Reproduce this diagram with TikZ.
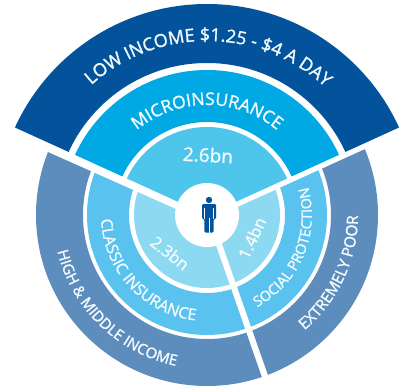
\documentclass[tikz,border=0pt]{standalone}
\usepackage{fontspec}
\setmainfont[FakeBold=1.2]{Open Sans}
\usetikzlibrary{decorations.text}
\definecolor{cLow}{HTML}{02539B}
\definecolor{cMicro}{HTML}{00A9E4}
\definecolor{cTopIn}{HTML}{4EC6EB}
\definecolor{cOut}{HTML}{5C8DBD}
\definecolor{cMid}{HTML}{59C2EE}
\definecolor{cIn}{HTML}{8ED9F2}
\definecolor{cTxt}{HTML}{F4FBFE}
\newcommand{\ringfill}[3]{\fill[#1,even odd rule] (0,0) circle[radius=#2] (0,0) circle[radius=#3];}
\newcommand{\arctext}[5]{% radius,start,end,size,text
  \path[postaction={decorate,decoration={text along path,text align={center},text color=cTxt,
    text={|\fontsize{#4}{#4}\selectfont|#5}}}] (#2:#1) arc[start angle=#2,end angle=#3,radius=#1];}
\begin{document}
\begin{tikzpicture}[x=1pt,y=1pt]
\useasboundingbox (-207,-170) rectangle (196,215);
\fill[white] (-207,-170) rectangle (196,215);
\begin{scope}
 \clip (0,0) -- (155.5:300) -- (-300,300) -- (300,300) -- (24.5:300) -- cycle;
 \ringfill{cLow}{211}{152}
 \ringfill{cMicro}{145}{93}
 \ringfill{cTopIn}{88}{30}
\end{scope}
\begin{scope}
 \clip (1.4,-8.5) -- (-272.6,113.5) -- (-300,-300) -- (100,-292) -- cycle;
 \ringfill{cOut}{171}{124}
 \ringfill{cMid}{120}{78}
 \ringfill{cIn}{73}{30}
\end{scope}
\begin{scope}
 \clip (6.1,-3.2) -- (279,121) -- (300,-300) -- (105,-286) -- cycle;
 \ringfill{cOut}{171}{124}
 \ringfill{cMid}{120}{78}
 \ringfill{cIn}{73}{30}
\end{scope}
\fill[white] (0,0) circle[radius=32];
% person
\begin{scope}[shift={(2,0)}]
 \fill[cLow] (0,15) circle[radius=3.2];
 \fill[cLow,rounded corners=1.2pt] (-7,11) -- (7,11) -- (7,-4) -- (4.6,-4) -- (4.6,-17.5) -- (-4.6,-17.5) -- (-4.6,-4) -- (-7,-4) -- cycle;
 \draw[white,line width=.5pt] (0,-17.5) -- (0,-3);
 \draw[white,line width=.5pt] (-4.6,7) -- (-4.6,-4);
 \draw[white,line width=.5pt] (4.6,7) -- (4.6,-4);
\end{scope}
\arctext{174}{169.5}{9.5}{18}{LOW INCOME {\$}1.25 - {\$}4 A DAY}
\arctext{110}{170}{10}{17.5}{MICROINSURANCE}
\arctext{154}{146}{306}{15}{HIGH {\&} MIDDLE INCOME}
\arctext{106}{143}{303}{15.8}{CLASSIC INSURANCE}
\arctext{105}{-103}{57}{14.5}{SOCIAL PROTECTION}
\arctext{151}{-105}{55}{15.5}{EXTREMELY POOR}
\node[text=cTxt,font=\fontsize{19}{19}\selectfont,rotate=-3] (a) at (1,60) {2.6bn};
\node[text=cTxt,font=\fontsize{16.5}{16.5}\selectfont,rotate=-38] (b) at (-37,-38) {2.3bn};
\node[text=cTxt,font=\fontsize{16.5}{16.5}\selectfont,rotate=65] (c) at (45,-23) {1.4bn};
\end{tikzpicture}
\end{document}
